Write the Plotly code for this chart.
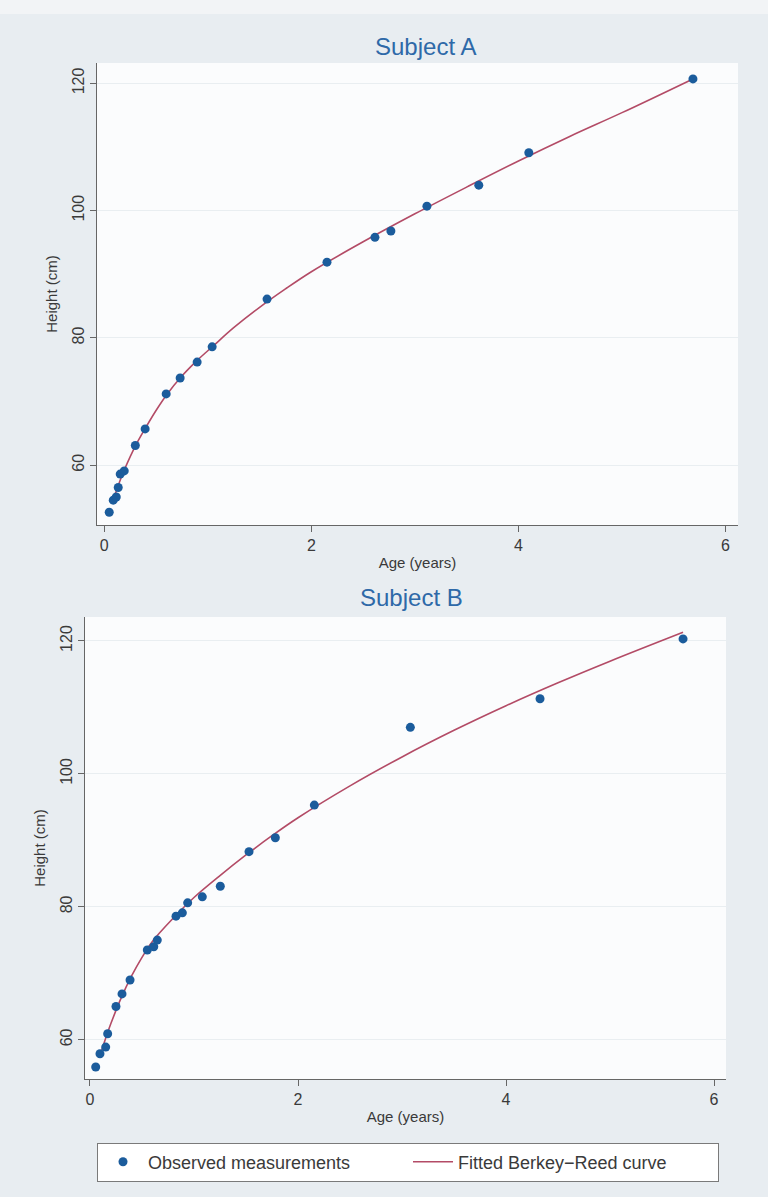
import plotly.graph_objects as go

# ---------------- data ----------------
# Subject A observed measurements
a_age = [0.048, 0.087, 0.116, 0.135, 0.154, 0.193, 0.30, 0.395, 0.598, 0.733,
         0.897, 1.042, 1.572, 2.151, 2.614, 2.768, 3.116, 3.617, 4.10, 5.685]
a_height = [52.6, 54.5, 55.0, 56.5, 58.6, 59.1, 63.1, 65.7, 71.2, 73.7,
            76.2, 78.6, 86.1, 91.9, 95.8, 96.8, 100.7, 104.0, 109.1, 120.7]
# Subject A fitted Berkey-Reed curve
a_fit_age = [0.08, 0.12, 0.16, 0.2, 0.3, 0.4, 0.5, 0.6, 0.75, 0.9, 1.05, 1.25,
             1.5, 1.75, 2.0, 2.5, 3.0, 3.5, 4.0, 4.5, 5.0, 5.685]
a_fit_height = [54.3, 56.1, 57.9, 59.5, 63.0, 65.9, 68.6, 71.0, 74.0, 76.5, 78.7, 81.6,
                84.8, 87.7, 90.4, 95.1, 99.5, 103.7, 107.8, 111.7, 115.4, 120.7]

# Subject B observed measurements
b_age = [0.055, 0.096, 0.151, 0.170, 0.25, 0.308, 0.385, 0.551, 0.613, 0.647,
         0.827, 0.888, 0.939, 1.08, 1.253, 1.529, 1.782, 2.157, 3.08, 4.327, 5.702]
b_height = [55.9, 57.9, 58.9, 60.9, 65.0, 66.9, 69.0, 73.5, 74.0, 75.0,
            78.6, 79.1, 80.6, 81.5, 83.1, 88.3, 90.4, 95.3, 107.0, 111.3, 120.3]
# Subject B fitted Berkey-Reed curve
b_fit_age = [0.09, 0.15, 0.2, 0.3, 0.4, 0.5, 0.6, 0.8, 1.0, 1.25, 1.5, 1.75,
             2.0, 2.5, 3.0, 3.5, 4.0, 4.5, 5.0, 5.702]
b_fit_height = [57.3, 60.2, 62.4, 66.3, 69.6, 72.4, 74.8, 78.3, 81.4, 84.7, 87.8, 90.7,
                93.4, 98.2, 102.55, 106.55, 110.25, 113.7, 116.95, 121.3]

titles = ["Subject A", "Subject B"]
x_ticks = [0, 2, 4, 6]
y_ticks = [60, 80, 100, 120]
legend_names = ["Observed measurements", "Fitted Berkey\u2212Reed curve"]

# ---------------- style ----------------
W, H = 768, 1197
FONT = "Liberation Sans, Arial, sans-serif"
MARKER_COLOR = "#1b5c9c"
LINE_COLOR = "#b34b66"
AXIS_COLOR = "#666666"
TEXT_COLOR = "#3a3a3a"
TITLE_COLOR = "#2e69a8"

fig = go.Figure()

fig.add_trace(go.Scatter(x=a_fit_age, y=a_fit_height, mode="lines", line_shape="spline",
                         line=dict(color=LINE_COLOR, width=1.6), name=legend_names[1],
                         xaxis="x", yaxis="y", showlegend=True, legendrank=2))
fig.add_trace(go.Scatter(x=a_age, y=a_height, mode="markers",
                         marker=dict(color=MARKER_COLOR, size=9), name=legend_names[0],
                         xaxis="x", yaxis="y", showlegend=True, legendrank=1))
fig.add_trace(go.Scatter(x=b_fit_age, y=b_fit_height, mode="lines", line_shape="spline",
                         line=dict(color=LINE_COLOR, width=1.6), name=legend_names[1],
                         xaxis="x2", yaxis="y2", showlegend=False))
fig.add_trace(go.Scatter(x=b_age, y=b_height, mode="markers",
                         marker=dict(color=MARKER_COLOR, size=9), name=legend_names[0],
                         xaxis="x2", yaxis="y2", showlegend=False))

def xax(domain, anchor, rng):
    return dict(domain=domain, anchor=anchor, range=rng, tickvals=x_ticks,
                showline=True, linecolor=AXIS_COLOR, linewidth=1, mirror=False,
                ticks="outside", ticklen=6, tickcolor=AXIS_COLOR,
                showgrid=False, zeroline=False,
                tickfont=dict(size=16, color=TEXT_COLOR, family=FONT),
                title=dict(text="Age (years)", standoff=4,
                           font=dict(size=15, color=TEXT_COLOR, family=FONT)))

def yax(domain, anchor, rng):
    return dict(domain=domain, anchor=anchor, range=rng, tickvals=y_ticks,
                showline=True, linecolor=AXIS_COLOR, linewidth=1,
                ticks="outside", ticklen=6, tickcolor=AXIS_COLOR, tickangle=-90,
                showgrid=True, gridcolor="#e9eef1", gridwidth=1, zeroline=False,
                tickfont=dict(size=16, color=TEXT_COLOR, family=FONT),
                title=dict(text="Height (cm)", standoff=8,
                           font=dict(size=15, color=TEXT_COLOR, family=FONT)))

fig.update_layout(
    width=W, height=H,
    margin=dict(l=0, r=0, t=0, b=0, autoexpand=False),
    paper_bgcolor="#e8edf1",
    plot_bgcolor="#fbfcfd",
    font=dict(family=FONT, color=TEXT_COLOR),
    xaxis=xax([97 / W, 738 / W], "y", [-0.07, 6.12]),
    yaxis=yax([1 - 525 / H, 1 - 63 / H], "x", [50.6, 123.2]),
    xaxis2=xax([85 / W, 726 / W], "y2", [-0.048, 6.115]),
    yaxis2=yax([1 - 1079 / H, 1 - 617 / H], "x2", [54.1, 123.6]),
    legend=dict(orientation="h", x=408 / W, xanchor="center", y=1 - 1162 / H, yanchor="middle",
                bgcolor="white", bordercolor="#7a7a7a", borderwidth=1,
                font=dict(size=18, color=TEXT_COLOR, family=FONT),
                entrywidth=255, itemwidth=40, traceorder="normal"),
    annotations=[
        dict(text=titles[0], x=425 / W, y=1 - 46 / H, xref="paper", yref="paper",
             showarrow=False, font=dict(size=24, color=TITLE_COLOR, family=FONT),
             xanchor="center", yanchor="middle"),
        dict(text=titles[1], x=411 / W, y=1 - 597 / H, xref="paper", yref="paper",
             showarrow=False, font=dict(size=24, color=TITLE_COLOR, family=FONT),
             xanchor="center", yanchor="middle"),
    ],
    shapes=[
        dict(type="rect", xref="paper", yref="paper", x0=0, x1=1, y0=1 - 14 / H, y1=1,
             fillcolor="#f2f4f6", line=dict(width=0), layer="below"),
    ],
)

fig.write_html("out.html",
               config={"displayModeBar": False},
               post_script="document.body.style.margin='0';document.body.style.padding='0';"
                           "document.body.style.overflow='hidden';")
